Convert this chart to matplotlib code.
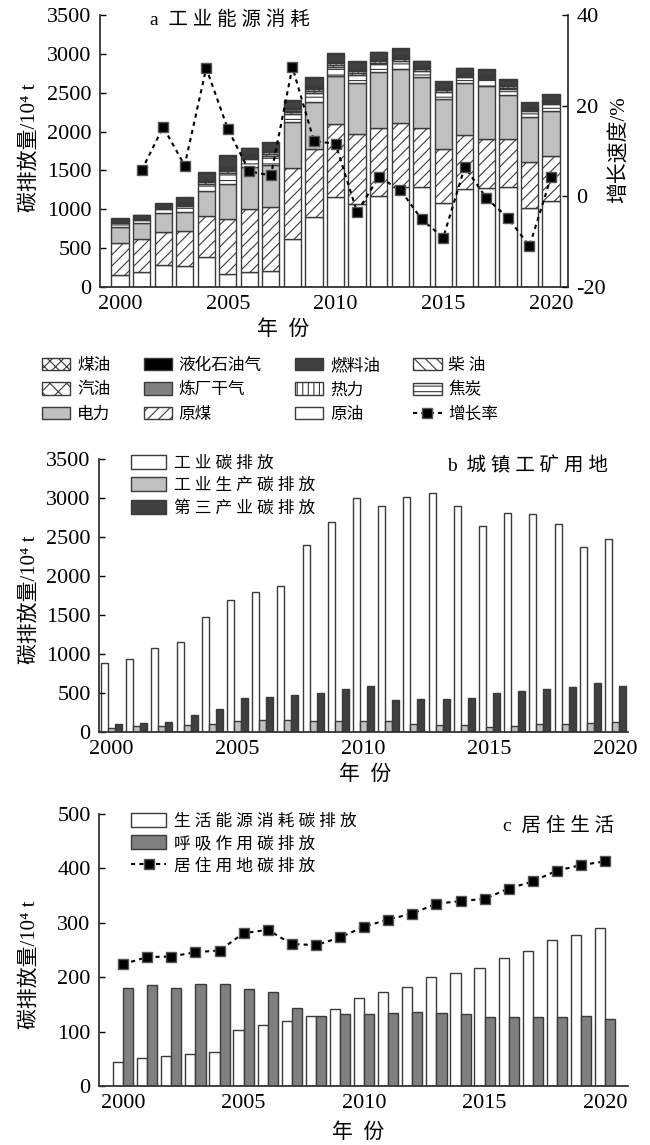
import numpy as np
import matplotlib
matplotlib.use("Agg")
import matplotlib.pyplot as plt
from matplotlib.patches import Patch
from matplotlib.lines import Line2D

plt.rcParams['font.family'] = ['Liberation Serif', 'Noto Sans CJK SC']
plt.rcParams['hatch.linewidth'] = 0.8
plt.rcParams['axes.unicode_minus'] = False

years = np.arange(2000, 2021)

# a 工业能源消耗, 10^4 t (stacked, bottom -> top)
crude_oil = [155, 198, 280, 271, 388, 164, 198, 207, 612, 904, 1154, 1068, 1176, 1283, 1292, 1077, 1266, 1275, 1283, 1017, 1111]
raw_coal = [410, 418, 422, 444, 525, 710, 806, 827, 921, 870, 948, 905, 870, 827, 758, 697, 689, 628, 625, 594, 581]
electricity = [210, 207, 254, 254, 319, 453, 537, 542, 586, 603, 611, 646, 715, 690, 646, 651, 664, 685, 560, 576, 573]
coke = [45, 45, 50, 75, 95, 140, 100, 115, 110, 125, 120, 115, 105, 110, 85, 90, 80, 85, 80, 75, 85]
diesel = [10, 10, 12, 15, 20, 22, 20, 22, 22, 25, 25, 24, 22, 22, 18, 18, 17, 18, 17, 16, 18]
heat = [8, 8, 9, 14, 18, 20, 18, 20, 20, 22, 20, 20, 18, 19, 15, 16, 14, 15, 15, 14, 16]
refinery_gas = [6, 6, 7, 10, 12, 14, 12, 14, 14, 15, 14, 14, 13, 13, 11, 11, 10, 11, 10, 9, 11]
gasoline = [6, 6, 7, 9, 11, 12, 11, 12, 12, 14, 13, 13, 12, 12, 10, 10, 9, 10, 9, 9, 10]
kerosene = [3, 3, 3, 4, 5, 6, 5, 6, 6, 6, 6, 6, 5, 5, 4, 4, 4, 4, 4, 4, 4]
fuel_oil = [26, 25, 29, 52, 76, 150, 77, 91, 91, 102, 93, 87, 82, 81, 65, 68, 61, 66, 64, 57, 65]
lpg = [4, 4, 4, 6, 8, 10, 8, 9, 9, 10, 10, 9, 9, 9, 7, 7, 7, 7, 7, 6, 7]
growth = [5.7, 15.3, 6.8, 28.3, 14.9, 5.5, 4.6, 28.5, 12.2, 11.6, -3.5, 4.2, 1.5, -5.1, -9.1, 6.5, -0.4, -4.7, -11.0, 4.2]

# b 城镇工矿用地
ind_carbon = [889, 940, 1081, 1158, 1479, 1697, 1791, 1872, 2398, 2693, 3000, 2898, 3013, 3064, 2902, 2641, 2812, 2800, 2667, 2376, 2475]
ind_prod = [56, 77, 73, 94, 107, 141, 154, 154, 137, 137, 137, 137, 107, 94, 85, 68, 81, 103, 103, 120, 132]
tertiary = [98, 120, 128, 214, 295, 440, 453, 479, 500, 547, 586, 415, 427, 427, 440, 504, 521, 547, 577, 624, 590]

# c 居住生活
living_energy = [45, 52, 56, 59, 62, 103, 113, 119, 129, 141, 161, 172, 182, 201, 208, 216, 235, 248, 268, 278, 290]
respiration = [180, 185, 181, 188, 188, 178, 173, 143, 129, 132, 132, 135, 136, 134, 132, 127, 127, 127, 127, 129, 123]
residential = [224, 237, 238, 246, 249, 281, 287, 261, 259, 273, 293, 306, 317, 335, 340, 344, 363, 376, 396, 406, 413]

W, H = 650, 1145
EC = '#3a3a3a'
YLAB = '碳排放量/10⁴ t'
fig = plt.figure(figsize=(W / 100, H / 100), dpi=100)


def box(l, t, r, b):
    return [l / W, 1 - b / H, (r - l) / W, (b - t) / H]


def style(ax):
    for s in ['top', 'right']:
        ax.spines[s].set_visible(False)
    for s in ['left', 'bottom']:
        ax.spines[s].set_linewidth(1.3)
        ax.spines[s].set_color('#333333')
    ax.tick_params(axis='y', direction='in', length=4, width=1, labelsize=16, pad=6)
    ax.tick_params(axis='x', length=0, labelsize=16, pad=6)


line_kw = dict(color='black', linestyle=(0, (2, 2)), linewidth=1.5, marker='s',
               markersize=7, markerfacecolor='black', markeredgecolor='#555555')

# ---------- a ----------
ax1 = fig.add_axes(box(100, 15, 568, 287))
layers = [
    (crude_oil, '原油', 'white', None),
    (raw_coal, '原煤', 'white', '///'),
    (electricity, '电力', '#c0c0c0', None),
    (coke, '焦炭', 'white', '---'),
    (diesel, '柴 油', 'white', '\\\\\\'),
    (heat, '热力', 'white', '|||'),
    (refinery_gas, '炼厂干气', '#808080', None),
    (gasoline, '汽油', 'white', 'xx'),
    (kerosene, '煤油', 'white', 'xxx'),
    (fuel_oil, '燃料油', '#404040', None),
    (lpg, '液化石油气', 'black', None),
]
bottom = np.zeros(len(years))
handles = {}
for vals, name, fc, hatch in layers:
    ax1.bar(years, vals, 0.8, bottom=bottom, color=fc, edgecolor=EC, hatch=hatch, linewidth=1.0)
    bottom += np.array(vals)
    handles[name] = Patch(facecolor=fc, edgecolor=EC, hatch=hatch, linewidth=1.0)
ax1.set_xlim(1999.07, 2020.79)
ax1.set_ylim(0, 3500)
ax1.set_yticks(np.arange(0, 3501, 500))
ax1.set_xticks([2000, 2005, 2010, 2015, 2020])
style(ax1)

ax1b = ax1.twinx()
ax1b.plot(years[1:], growth, **line_kw)
ax1b.set_ylim(-20, 40)
ax1b.set_yticks([-20, 0, 20, 40])
ax1b.spines['top'].set_visible(False)
ax1b.spines['left'].set_visible(False)
ax1b.spines['bottom'].set_visible(False)
ax1b.spines['right'].set_linewidth(1.3)
ax1b.spines['right'].set_color('#333333')
ax1b.tick_params(axis='y', direction='in', length=4, width=1, labelsize=16, pad=6)

fig.text(150 / W, 1 - 20 / H, 'a  工 业 能 源 消 耗', fontsize=14, va='center', ha='left')
fig.text(30 / W, 1 - 148 / H, YLAB, fontsize=15, rotation=90, va='center', ha='center')
fig.text(619 / W, 1 - 150 / H, '增长速度/%', fontsize=15, rotation=90, va='center', ha='center')
fig.text(283 / W, 1 - 330 / H, '年  份', fontsize=15, va='center', ha='center')

handles['增长率'] = Line2D([], [], **line_kw)
order = ['煤油', '汽油', '电力', '液化石油气', '炼厂干气', '原煤', '燃料油', '热力', '原油', '柴 油', '焦炭', '增长率']
fig.legend([handles[k] for k in order], order, loc='upper left', bbox_to_anchor=(42 / W, 1 - 358 / H),
           ncol=4, frameon=False, fontsize=12, handlelength=1.7, handleheight=0.75,
           handletextpad=0.4, columnspacing=2.0, labelspacing=0.5, borderpad=0, borderaxespad=0)

# ---------- b ----------
ax2 = fig.add_axes(box(99, 459, 628, 732))
bw = 0.278
ax2.bar(years - bw, ind_carbon, bw, color='white', edgecolor=EC, linewidth=1.0, label='工 业 碳 排 放')
ax2.bar(years, ind_prod, bw, color='#c0c0c0', edgecolor=EC, linewidth=1.0, label='工 业 生 产 碳 排 放')
ax2.bar(years + bw, tertiary, bw, color='#404040', edgecolor=EC, linewidth=1.0, label='第 三 产 业 碳 排 放')
ax2.set_xlim(1999.5, 2020.5)
ax2.set_ylim(0, 3500)
ax2.set_yticks(np.arange(0, 3501, 500))
ax2.set_xticks([2000, 2005, 2010, 2015, 2020])
style(ax2)
ax2.legend(loc='upper left', bbox_to_anchor=(131 / W, 1 - 455 / H), bbox_transform=fig.transFigure,
           frameon=False, fontsize=12, handlelength=2.1, handleheight=0.9, handletextpad=0.5,
           labelspacing=0.35, borderpad=0, borderaxespad=0)
fig.text(447 / W, 1 - 466 / H, 'b  城 镇 工 矿 用 地', fontsize=14, va='center', ha='left')
fig.text(30 / W, 1 - 600 / H, YLAB, fontsize=15, rotation=90, va='center', ha='center')
fig.text(365 / W, 1 - 775 / H, '年  份', fontsize=15, va='center', ha='center')

# ---------- c ----------
ax3 = fig.add_axes(box(99, 814, 628, 1086))
cw = 0.42
b1 = ax3.bar(years - cw / 2, living_energy, cw, color='white', edgecolor=EC, linewidth=1.0)
b2 = ax3.bar(years + cw / 2, respiration, cw, color='#808080', edgecolor=EC, linewidth=1.0)
l1, = ax3.plot(years, residential, **line_kw)
ax3.set_xlim(1999, 2020.95)
ax3.set_ylim(0, 500)
ax3.set_yticks(np.arange(0, 501, 100))
ax3.set_xticks([2000, 2005, 2010, 2015, 2020])
style(ax3)
ax3.legend([b1, b2, l1], ['生 活 能 源 消 耗 碳 排 放', '呼 吸 作 用 碳 排 放', '居 住 用 地 碳 排 放'],
           loc='upper left', bbox_to_anchor=(131 / W, 1 - 813 / H), bbox_transform=fig.transFigure,
           frameon=False, fontsize=12, handlelength=2.1, handleheight=0.9, handletextpad=0.5,
           labelspacing=0.35, borderpad=0, borderaxespad=0)
fig.text(503 / W, 1 - 826 / H, 'c  居 住 生 活', fontsize=14, va='center', ha='left')
fig.text(30 / W, 1 - 965 / H, YLAB, fontsize=15, rotation=90, va='center', ha='center')
fig.text(358 / W, 1 - 1133 / H, '年  份', fontsize=15, va='center', ha='center')

fig.savefig('out.png', dpi=100)
